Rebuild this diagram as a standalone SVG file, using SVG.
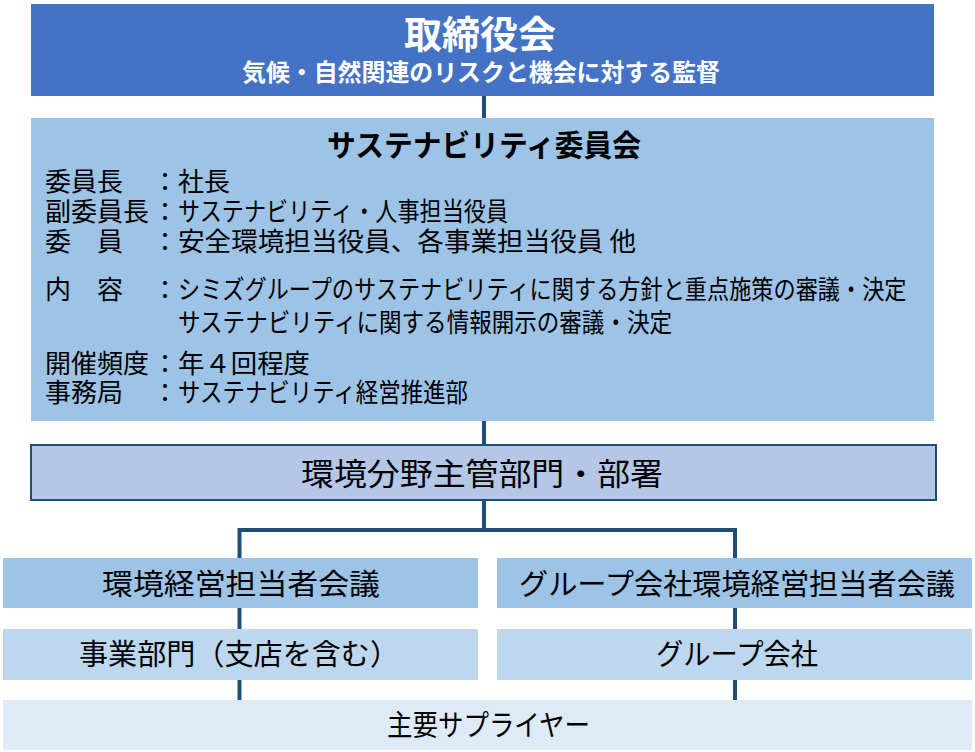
<svg xmlns="http://www.w3.org/2000/svg" width="975" height="752" viewBox="0 0 975 752">
<style>
text{font-family:"Noto Sans CJK JP","Noto Sans",sans-serif;}
.w{fill:#ffffff;font-weight:bold;}
.k{fill:#000000;}
.b{font-weight:bold;}
.row{font-size:26px;}
.big{font-size:29px;}
.conn{stroke:#1F4E79;stroke-width:4;fill:none;}
</style>
<rect width="975" height="752" fill="#ffffff"/>
<g id="connectors">
<line class="conn" x1="484" y1="96" x2="484" y2="118"/>
<line class="conn" x1="484" y1="421" x2="484" y2="445"/>
<line class="conn" x1="484" y1="500" x2="484" y2="530"/>
<polyline class="conn" points="239.5,558 239.5,530 735,530 735,558"/>
<line class="conn" x1="239.5" y1="608" x2="239.5" y2="629"/>
<line class="conn" x1="735" y1="608" x2="735" y2="629"/>
<line class="conn" x1="239.5" y1="680" x2="239.5" y2="700"/>
<line class="conn" x1="735" y1="680" x2="735" y2="700"/>
</g>
<g id="board">
<rect x="31" y="4" width="903" height="92" fill="#4472C4"/>
<text class="w" x="404" y="48" font-size="38" textLength="152" lengthAdjust="spacingAndGlyphs">取締役会</text>
<text class="w" x="242" y="81" font-size="24" textLength="478" lengthAdjust="spacingAndGlyphs">気候・自然関連のリスクと機会に対する監督</text>
</g>
<g id="committee">
<rect x="31" y="118" width="903" height="303" fill="#9DC3E6"/>
<text class="k b" x="327" y="156" font-size="30" textLength="314" lengthAdjust="spacingAndGlyphs">サステナビリティ委員会</text>
<g class="row k">
<text x="45" y="191">委員長</text>
<text x="152" y="191">：</text>
<text x="178" y="191">社長</text>
<text x="45" y="221">副委員長</text>
<text x="152" y="221">：</text>
<text x="178" y="221" textLength="330" lengthAdjust="spacingAndGlyphs">サステナビリティ・人事担当役員</text>
<text x="45" y="251">委　員</text>
<text x="152" y="251">：</text>
<text x="178" y="251" textLength="458" lengthAdjust="spacingAndGlyphs">安全環境担当役員、各事業担当役員 他</text>
<text x="45" y="299">内　容</text>
<text x="152" y="299">：</text>
<text transform="translate(178,299) scale(0.853,1)" x="0" y="0">シミズグループのサステナビリティに関する方針と重点施策の審議・決定</text>
<text x="178" y="332" textLength="494" lengthAdjust="spacingAndGlyphs">サステナビリティに関する情報開示の審議・決定</text>
<text x="45" y="373">開催頻度</text>
<text x="152" y="373">：</text>
<text x="178" y="373" textLength="132" lengthAdjust="spacingAndGlyphs">年４回程度</text>
<text x="45" y="402">事務局</text>
<text x="152" y="402">：</text>
<text x="178" y="402" textLength="290" lengthAdjust="spacingAndGlyphs">サステナビリティ経営推進部</text>
</g>
</g>
<g id="env-dept">
<rect x="31" y="445" width="905" height="55" fill="#B4C7E7" stroke="#1F4E79" stroke-width="2"/>
<text class="k" x="301" y="485" font-size="31" textLength="362" lengthAdjust="spacingAndGlyphs">環境分野主管部門・部署</text>
</g>
<g id="env-mgmt-meeting">
<rect x="3" y="558" width="475" height="50" fill="#9DC3E6"/>
<text class="k big" x="102" y="595" textLength="278" lengthAdjust="spacingAndGlyphs">環境経営担当者会議</text>
</g>
<g id="group-env-meeting">
<rect x="497" y="558" width="475" height="50" fill="#9DC3E6"/>
<text class="k big" x="519" y="595" textLength="436" lengthAdjust="spacingAndGlyphs">グループ会社環境経営担当者会議</text>
</g>
<g id="business-div">
<rect x="3" y="629" width="475" height="51" fill="#BDD7EE"/>
<text class="k big" x="79" y="665" textLength="320" lengthAdjust="spacingAndGlyphs">事業部門（支店を含む）</text>
</g>
<g id="group-companies">
<rect x="497" y="629" width="475" height="51" fill="#BDD7EE"/>
<text class="k big" x="656" y="665" textLength="162" lengthAdjust="spacingAndGlyphs">グループ会社</text>
</g>
<g id="suppliers">
<rect x="3" y="700" width="969" height="50" fill="#DEEBF7"/>
<text class="k big" x="387" y="736" textLength="203" lengthAdjust="spacingAndGlyphs">主要サプライヤー</text>
</g>
</svg>
